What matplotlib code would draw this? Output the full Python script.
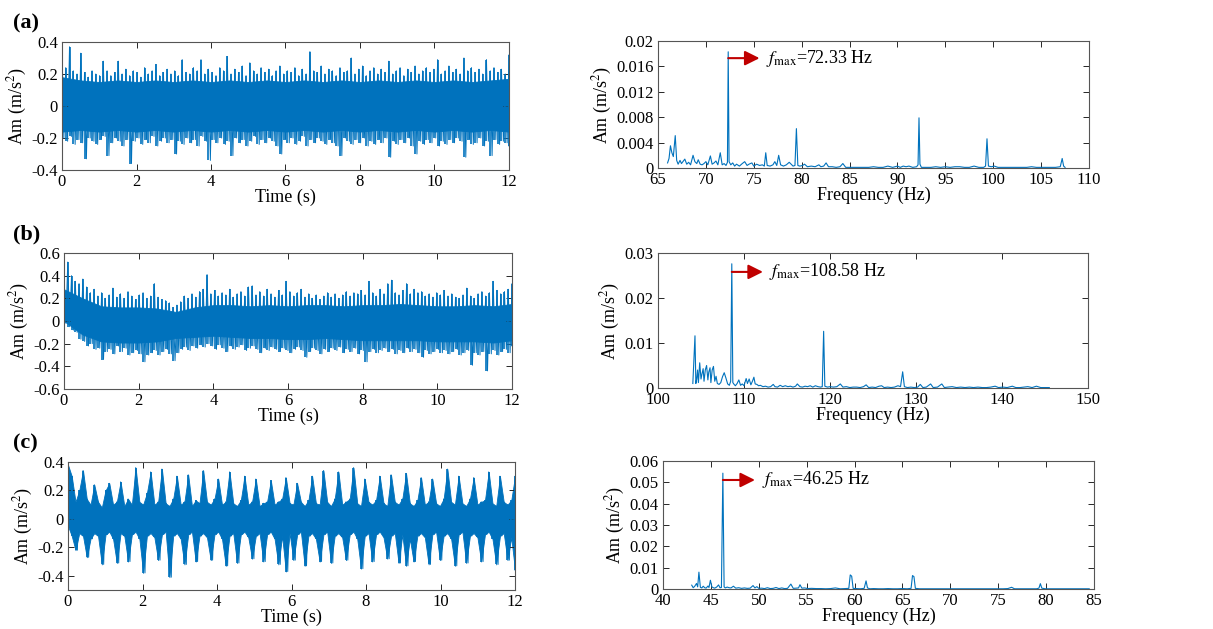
import numpy as np
import matplotlib
matplotlib.use("Agg")
from matplotlib import pyplot as plt
from matplotlib.ticker import FuncFormatter

plt.rcParams['font.family'] = ['Liberation Serif', 'DejaVu Serif']
plt.rcParams['mathtext.fontset'] = 'stix'

# ---- time signals: peak (upper / lower) samples every 0.1 s, units of 0.01 m/s^2 ----
sig_a_up = [37, 24, 37, 22, 20, 33, 21, 18, 22, 20, 19, 28, 22, 19, 21, 28, 20, 23, 19, 22,
            21, 18, 24, 20, 22, 26, 19, 21, 23, 20, 22, 19, 29, 21, 20, 24, 22, 29, 20, 23,
            21, 19, 24, 22, 31, 20, 23, 21, 25, 19, 27, 22, 20, 24, 21, 23, 19, 22, 25, 20,
            22, 21, 24, 19, 23, 20, 34, 22, 21, 25, 20, 23, 22, 19, 24, 21, 22, 30, 20, 23,
            25, 19, 22, 24, 20, 23, 21, 28, 20, 22, 24, 19, 23, 21, 25, 20, 22, 24, 21, 23,
            29, 20, 22, 25, 21, 23, 20, 30, 22, 24, 21, 23, 20, 29, 22, 24, 21, 23, 20, 32]
sig_a_lo = [20, 22, 19, 24, 21, 23, 33, 20, 22, 24, 21, 19, 31, 23, 20, 22, 25, 21, 36, 22,
            20, 24, 21, 23, 19, 25, 22, 20, 23, 21, 30, 22, 24, 20, 23, 21, 25, 19, 22, 34,
            21, 23, 20, 24, 22, 31, 20, 23, 21, 25, 22, 19, 24, 21, 23, 20, 22, 25, 30, 21,
            23, 20, 24, 22, 19, 25, 21, 23, 20, 22, 24, 21, 23, 25, 31, 20, 22, 24, 21, 23,
            20, 25, 22, 24, 21, 23, 20, 32, 22, 24, 21, 23, 20, 25, 30, 22, 24, 21, 23, 20,
            25, 22, 24, 21, 23, 20, 22, 32, 21, 24, 23, 20, 25, 22, 31, 21, 24, 22, 23, 25]
# solid core of the trace, every 0.5 s
core_a_up = [18, 16, 15, 16, 15, 16, 15, 16, 15, 16, 15, 16, 15, 16, 15, 16, 15, 16, 15, 16,
             15, 16, 15, 16, 17]
core_a_lo = [16, 15, 16, 15, 16, 15, 16, 15, 16, 15, 16, 15, 16, 15, 16, 15, 16, 15, 16, 15,
             16, 15, 16, 15, 16]

sig_b_up = [30, 52, 40, 35, 33, 37, 30, 25, 28, 22, 25, 20, 23, 29, 21, 24, 20, 26, 22, 19,
            23, 25, 20, 22, 33, 21, 19, 18, 16, 12, 14, 17, 22, 20, 24, 21, 26, 28, 41, 24,
            27, 22, 25, 23, 28, 21, 24, 26, 22, 30, 31, 23, 26, 22, 28, 24, 21, 27, 23, 35,
            26, 22, 25, 28, 21, 24, 20, 23, 19, 22, 25, 21, 24, 20, 23, 26, 22, 25, 24, 27,
            23, 35, 25, 22, 28, 24, 33, 36, 25, 23, 27, 33, 24, 28, 25, 26, 22, 24, 21, 25,
            23, 27, 22, 24, 21, 20, 23, 29, 22, 20, 24, 26, 22, 25, 35, 27, 24, 26, 28, 33]
sig_b_lo = [2, 5, 8, 10, 16, 18, 22, 20, 25, 24, 34, 27, 25, 29, 22, 27, 24, 30, 28, 26,
            29, 36, 30, 28, 26, 30, 27, 25, 29, 35, 28, 25, 23, 26, 22, 24, 21, 23, 20, 22,
            25, 21, 24, 27, 22, 25, 23, 21, 26, 24, 22, 25, 28, 24, 26, 23, 25, 27, 24, 26,
            28, 25, 23, 26, 32, 27, 24, 26, 29, 25, 27, 24, 26, 23, 28, 25, 27, 24, 29, 26,
            36, 27, 25, 28, 26, 24, 27, 25, 29, 26, 28, 24, 27, 25, 28, 32, 26, 29, 27, 25,
            28, 26, 29, 27, 25, 30, 28, 26, 39, 28, 30, 27, 44, 29, 26, 30, 27, 25, 28, 22]
core_b_up = [28, 20, 13, 12, 12, 11, 8, 12, 14, 14, 13, 14, 13, 14, 14, 13, 14, 14, 15, 14,
             13, 13, 14, 13, 15]
core_b_lo = [0, 12, 18, 19, 19, 18, 15, 14, 13, 14, 15, 15, 16, 16, 15, 16, 17, 17, 17, 17,
             18, 18, 18, 19, 17]

sig_c_up = [38, 30, 12, 20, 34, 14, 10, 24, 12, 8, 20, 25, 10, 12, 26, 9, 14, 10, 36, 12,
            10, 18, 33, 10, 12, 35, 11, 9, 14, 30, 10, 12, 31, 9, 13, 11, 34, 12, 10, 14,
            28, 10, 12, 33, 11, 9, 13, 30, 10, 12, 28, 9, 11, 12, 27, 10, 12, 14, 29, 11,
            10, 25, 12, 9, 13, 30, 11, 10, 34, 12, 9, 14, 33, 10, 12, 14, 36, 11, 9, 28,
            12, 10, 13, 30, 11, 9, 31, 12, 10, 14, 32, 11, 9, 13, 29, 10, 12, 28, 11, 9,
            14, 35, 12, 10, 30, 11, 9, 14, 29, 10, 12, 13, 33, 11, 9, 30, 12, 10, 13, 30]
sig_c_lo = [5, 12, 22, 10, 12, 27, 14, 10, 12, 32, 11, 9, 14, 31, 10, 12, 30, 11, 9, 14,
            38, 12, 10, 13, 29, 11, 9, 41, 12, 10, 14, 32, 11, 9, 30, 12, 10, 13, 29, 11,
            9, 14, 33, 12, 10, 31, 11, 9, 13, 28, 12, 10, 30, 11, 9, 14, 32, 12, 37, 10,
            29, 11, 9, 33, 12, 10, 14, 30, 11, 9, 31, 12, 10, 13, 29, 11, 9, 14, 35, 12,
            10, 30, 11, 9, 13, 28, 12, 10, 31, 11, 33, 14, 30, 12, 10, 13, 32, 11, 9, 29,
            12, 10, 14, 33, 11, 9, 31, 12, 10, 13, 30, 11, 9, 14, 32, 12, 10, 29, 13, 36]

# ---- spectra: (frequency Hz, amplitude in 1e-3 m/s^2) ----
spec_a = [(66.0, 0.8), (66.15, 1.5), (66.3, 3.5), (66.45, 2.4), (66.6, 1.8), (66.8, 5.1), (66.95, 1.2),
          (67.1, 0.6), (67.3, 1.2), (67.45, 0.7), (67.6, 1.0), (67.8, 1.4), (68.0, 0.6), (68.2, 0.9),
          (68.4, 0.5), (68.66, 2.0), (68.85, 1.0), (69.05, 0.7), (69.2, 1.3), (69.4, 0.6), (69.6, 0.5),
          (69.8, 0.7), (70.0, 1.0), (70.2, 0.5), (70.47, 1.9), (70.65, 0.6), (70.85, 0.8), (71.05, 1.1),
          (71.25, 0.5), (71.5, 2.4), (71.7, 0.5), (71.9, 0.7), (72.1, 0.4), (72.25, 0.9), (72.33, 18.3),
          (72.42, 1.0), (72.6, 0.5), (72.8, 0.8), (73.0, 0.3), (73.2, 0.6), (73.5, 0.3), (73.8, 0.7),
          (74.05, 1.0), (74.3, 0.4), (74.5, 0.6), (74.8, 0.8), (75.0, 0.3), (75.3, 0.6), (75.6, 0.4),
          (75.9, 0.5), (76.1, 0.3), (76.25, 2.4), (76.4, 0.4), (76.7, 0.3), (77.0, 0.5), (77.2, 1.0),
          (77.4, 0.4), (77.6, 2.0), (77.8, 0.5), (78.1, 0.3), (78.4, 0.5), (78.7, 0.9), (78.9, 0.6),
          (79.1, 0.3), (79.3, 0.4), (79.45, 6.2), (79.6, 0.4), (79.8, 0.3), (80.1, 0.4), (80.3, 0.6),
          (80.6, 0.2), (81.0, 0.3), (81.4, 0.2), (81.8, 0.5), (82.0, 0.2), (82.3, 0.3), (82.55, 0.8),
          (82.8, 0.2), (83.2, 0.2), (83.6, 0.1), (84.0, 0.2), (84.3, 0.7), (84.6, 0.1), (85.0, 0.1),
          (85.5, 0.1), (86.0, 0.1), (86.5, 0.1), (87.0, 0.1), (87.5, 0.2), (88.0, 0.1), (88.5, 0.1),
          (89.0, 0.3), (89.5, 0.1), (90.0, 0.3), (90.3, 0.1), (90.6, 0.3), (90.9, 0.2), (91.2, 0.3),
          (91.6, 0.1), (92.0, 0.2), (92.15, 0.5), (92.25, 7.9), (92.35, 0.6), (92.5, 0.1), (93.0, 0.1),
          (93.5, 0.1), (94.0, 0.2), (94.5, 0.1), (95.0, 0.2), (95.5, 0.1), (96.0, 0.2), (96.5, 0.2),
          (97.0, 0.1), (97.5, 0.1), (98.0, 0.3), (98.5, 0.1), (99.0, 0.1), (99.2, 0.3), (99.35, 4.6),
          (99.5, 0.3), (99.8, 0.2), (100.1, 0.3), (100.5, 0.1), (101.0, 0.1), (101.5, 0.1), (102.0, 0.1),
          (102.5, 0.1), (103.0, 0.1), (103.5, 0.1), (104.0, 0.2), (104.5, 0.1), (105.0, 0.1), (105.5, 0.1),
          (106.0, 0.1), (106.5, 0.1), (107.0, 0.2), (107.2, 1.5), (107.35, 0.3), (107.5, 0.1)]

spec_b = [(104.05, 1.0), (104.15, 5.2), (104.3, 11.6), (104.4, 1.0), (104.5, 2.0), (104.6, 4.0), (104.7, 1.2),
          (104.85, 5.6), (105.0, 2.0), (105.1, 3.0), (105.25, 4.3), (105.35, 1.5), (105.5, 4.0), (105.65, 5.0),
          (105.8, 1.8), (105.9, 3.5), (106.05, 4.5), (106.15, 1.2), (106.3, 4.0), (106.45, 4.8), (106.6, 1.5),
          (106.75, 2.6), (106.9, 1.0), (107.1, 0.8), (107.3, 1.2), (107.5, 2.5), (107.7, 3.4), (107.9, 2.2),
          (108.1, 0.9), (108.3, 0.6), (108.45, 1.5), (108.58, 27.6), (108.7, 1.2), (108.85, 0.8), (109.0, 0.5),
          (109.2, 1.0), (109.4, 1.8), (109.6, 0.6), (109.8, 0.9), (110.0, 0.5), (110.25, 2.1), (110.4, 1.0),
          (110.6, 2.0), (110.8, 0.7), (111.0, 1.6), (111.15, 2.4), (111.3, 0.9), (111.5, 0.8), (111.7, 0.5),
          (111.9, 0.6), (112.2, 0.3), (112.5, 0.4), (112.8, 0.2), (113.1, 0.3), (113.4, 0.8), (113.6, 0.3),
          (113.9, 0.2), (114.2, 0.6), (114.5, 0.3), (114.8, 0.5), (115.1, 0.3), (115.4, 0.4), (115.7, 0.2),
          (116.0, 0.4), (116.2, 0.9), (116.5, 0.3), (116.8, 0.2), (117.1, 0.4), (117.4, 0.3), (117.7, 0.5),
          (118.0, 0.2), (118.3, 0.5), (118.6, 0.3), (118.9, 0.2), (119.1, 0.3), (119.26, 12.6), (119.4, 0.4),
          (119.7, 0.2), (120.0, 0.3), (120.4, 0.2), (120.8, 0.3), (121.2, 0.9), (121.5, 0.2), (121.9, 0.3),
          (122.3, 0.1), (122.7, 0.2), (123.1, 0.2), (123.5, 0.1), (123.9, 0.3), (124.2, 0.7), (124.5, 0.1),
          (124.9, 0.2), (125.3, 0.1), (125.7, 0.4), (126.0, 0.5), (126.3, 0.1), (126.7, 0.2), (127.1, 0.1),
          (127.5, 0.2), (127.9, 0.5), (128.2, 0.3), (128.45, 3.6), (128.65, 0.3), (129.0, 0.1), (129.4, 0.2),
          (129.8, 0.1), (130.2, 0.2), (130.5, 0.8), (130.8, 0.1), (131.2, 0.2), (131.7, 0.9), (132.0, 0.1),
          (132.5, 0.2), (133.0, 0.9), (133.3, 0.1), (133.7, 0.2), (134.2, 0.3), (134.7, 0.1), (135.2, 0.2),
          (135.7, 0.1), (136.2, 0.2), (136.7, 0.1), (137.2, 0.2), (137.7, 0.1), (138.2, 0.1), (138.7, 0.2),
          (139.2, 0.4), (139.6, 0.1), (140.1, 0.2), (140.6, 0.1), (141.2, 0.4), (141.6, 0.1), (142.1, 0.1),
          (142.6, 0.2), (143.0, 0.3), (143.5, 0.1), (144.0, 0.4), (144.5, 0.1), (145.0, 0.1), (145.5, 0.1)]

spec_c = [(43.0, 1.8), (43.15, 0.6), (43.3, 1.2), (43.5, 2.6), (43.62, 1.0), (43.75, 7.9), (43.9, 0.8),
          (44.05, 0.5), (44.2, 1.3), (44.35, 0.6), (44.5, 0.4), (44.7, 1.4), (44.8, 0.7), (44.95, 4.1),
          (45.1, 1.0), (45.25, 0.6), (45.4, 0.4), (45.6, 0.9), (45.8, 1.9), (45.95, 0.6), (46.1, 0.7),
          (46.25, 54.3), (46.38, 1.0), (46.5, 0.5), (46.7, 0.9), (46.9, 0.6), (47.1, 0.5), (47.35, 1.3),
          (47.6, 0.4), (47.9, 0.6), (48.2, 0.3), (48.5, 0.5), (48.8, 0.3), (49.1, 0.4), (49.4, 1.6),
          (49.6, 0.5), (49.8, 1.1), (50.0, 0.3), (50.3, 0.4), (50.6, 0.2), (50.9, 0.6), (51.2, 0.2),
          (51.5, 0.3), (51.8, 0.7), (52.1, 0.2), (52.4, 0.5), (52.7, 0.2), (53.0, 0.3), (53.35, 2.3),
          (53.6, 0.3), (53.9, 0.4), (54.15, 0.5), (54.3, 2.0), (54.5, 0.4), (54.8, 0.5), (55.1, 0.2),
          (55.5, 0.3), (56.0, 0.2), (56.5, 0.2), (57.0, 0.1), (57.5, 0.2), (58.0, 0.5), (58.5, 0.1),
          (59.0, 0.2), (59.4, 0.3), (59.55, 6.6), (59.7, 6.0), (59.85, 0.3), (60.2, 0.2), (60.6, 0.1),
          (61.0, 0.3), (61.2, 3.8), (61.35, 0.5), (61.6, 0.1), (62.0, 0.2), (62.5, 0.1), (63.0, 0.1),
          (63.5, 0.2), (64.0, 0.1), (64.5, 0.1), (65.0, 0.2), (65.5, 0.1), (65.9, 0.3), (66.05, 6.3),
          (66.2, 5.8), (66.35, 0.3), (66.8, 0.1), (67.5, 0.1), (68.0, 0.1), (68.5, 0.1), (69.0, 0.1),
          (69.5, 0.1), (70.0, 0.1), (70.5, 0.1), (71.0, 0.1), (71.5, 0.1), (72.0, 0.1), (72.5, 0.1),
          (73.0, 0.1), (73.5, 0.1), (74.0, 0.1), (74.5, 0.1), (75.0, 0.1), (75.5, 0.1), (76.0, 0.2),
          (76.4, 0.8), (76.7, 0.1), (77.0, 0.1), (77.5, 0.1), (78.0, 0.1), (78.5, 0.1), (79.0, 0.1),
          (79.25, 0.4), (79.4, 2.5), (79.55, 0.4), (79.9, 0.1), (80.5, 0.1), (81.0, 0.1), (81.5, 0.1),
          (82.0, 0.1), (82.5, 0.1), (83.0, 0.1), (83.5, 0.1), (84.0, 0.1), (84.5, 0.1)]

f_max = [72.33, 108.58, 46.25]
panel_tags = ['(a)', '(b)', '(c)']

BLUE = '#0072BD'
RED = '#C00000'
W, H = 1213, 629
fig = plt.figure(figsize=(W / 100, H / 100), dpi=100)


def box(l, t, r, b):
    return fig.add_axes([l / W, 1 - b / H, (r - l) / W, (b - t) / H])


def style(ax):
    ax.tick_params(direction='in', top=True, right=True, length=4, width=0.7,
                   labelsize=12, pad=3, colors='#262626', labelcolor='black')
    for s in ax.spines.values():
        s.set_linewidth(0.8)
        s.set_color('#555555')
    ax.yaxis.set_major_formatter(FuncFormatter(lambda v, p: '%g' % round(v, 6)))
    ax.xaxis.set_major_formatter(FuncFormatter(lambda v, p: '%g' % round(v, 6)))


def time_panel(ax, up, lo, ylim, yticks, core_up=None, core_lo=None):
    up = np.array(up) / 100.0
    lo = -np.array(lo) / 100.0
    t = np.linspace(0, 12, len(up))
    if core_up is None:
        # bursty trace: the peak envelope itself is the body of the trace
        ax.fill_between(t, lo, up, facecolor=BLUE, edgecolor=BLUE, lw=0.6)
    else:
        tc = np.linspace(0, 12, len(core_up))
        ax.fill_between(tc, -np.array(core_lo) / 100.0, np.array(core_up) / 100.0,
                        facecolor=BLUE, edgecolor=BLUE, lw=0.6)
    ax.vlines(t, lo, up, color=BLUE, lw=1.2)
    # swing from each upper peak down to the following lower peak
    tz = np.column_stack([t, np.minimum(t + 0.05, 12)]).ravel()
    yz = np.column_stack([up, lo]).ravel()
    ax.plot(tz, yz, color=BLUE, lw=0.7)
    ax.set_xlim(0, 12)
    ax.set_ylim(*ylim)
    ax.set_xticks(np.arange(0, 13, 2))
    ax.set_yticks(yticks)
    style(ax)
    ax.set_ylabel('Am (m/s$^2$)', fontsize=13, labelpad=2)
    ax.set_xlabel('Time (s)', fontsize=13, labelpad=-1)


def spec_panel(ax, spec, fpk, xlim, xticks, ylim, yticks, arrow_end, arrow_y):
    f, a = np.array(spec).T
    ax.plot(f, a / 1000.0, color=BLUE, lw=0.8)
    ax.set_xlim(*xlim)
    ax.set_ylim(*ylim)
    ax.set_xticks(xticks)
    ax.set_yticks(yticks)
    style(ax)
    ax.set_ylabel('Am (m/s$^2$)', fontsize=13, labelpad=2)
    ax.set_xlabel('Frequency (Hz)', fontsize=13, labelpad=-1)
    ax.annotate('', xy=(arrow_end, arrow_y), xytext=(fpk, arrow_y),
                arrowprops=dict(arrowstyle='-|>', color=RED, lw=1.5, mutation_scale=22,
                                shrinkA=0, shrinkB=0))
    ax.text(arrow_end + 0.7, arrow_y, r'$f_{\rm max}$=%.2f Hz' % fpk,
            fontsize=13, va='center', ha='left')


ax = box(62, 42, 509, 170)
time_panel(ax, sig_a_up, sig_a_lo, (-0.4, 0.4), [-0.4, -0.2, 0, 0.2, 0.4], core_a_up, core_a_lo)
ax = box(658, 41, 1089, 168)
spec_panel(ax, spec_a, f_max[0], (65, 110), np.arange(65, 111, 5), (0, 0.02),
           np.arange(0, 0.0201, 0.004), 75.6, 0.0173)

ax = box(64, 253, 512, 389)
time_panel(ax, sig_b_up, sig_b_lo, (-0.6, 0.6), [-0.6, -0.4, -0.2, 0, 0.2, 0.4, 0.6],
           core_b_up, core_b_lo)
ax = box(658, 253, 1088, 388)
spec_panel(ax, spec_b, f_max[1], (100, 150), np.arange(100, 151, 10), (0, 0.03),
           [0, 0.01, 0.02, 0.03], 112.2, 0.0258)

ax = box(68, 462, 515, 590)
time_panel(ax, sig_c_up, sig_c_lo, (-0.5, 0.4), [-0.4, -0.2, 0, 0.2, 0.4])
ax = box(663, 461, 1094, 589)
spec_panel(ax, spec_c, f_max[2], (40, 85), np.arange(40, 86, 5), (0, 0.06),
           np.arange(0, 0.0601, 0.01), 49.6, 0.0511)

for tag, ypix in zip(panel_tags, [23, 234, 443]):
    fig.text(13 / W, 1 - ypix / H, tag, fontsize=16, fontweight='bold', va='center', ha='left')

fig.savefig('out.png', dpi=100)
